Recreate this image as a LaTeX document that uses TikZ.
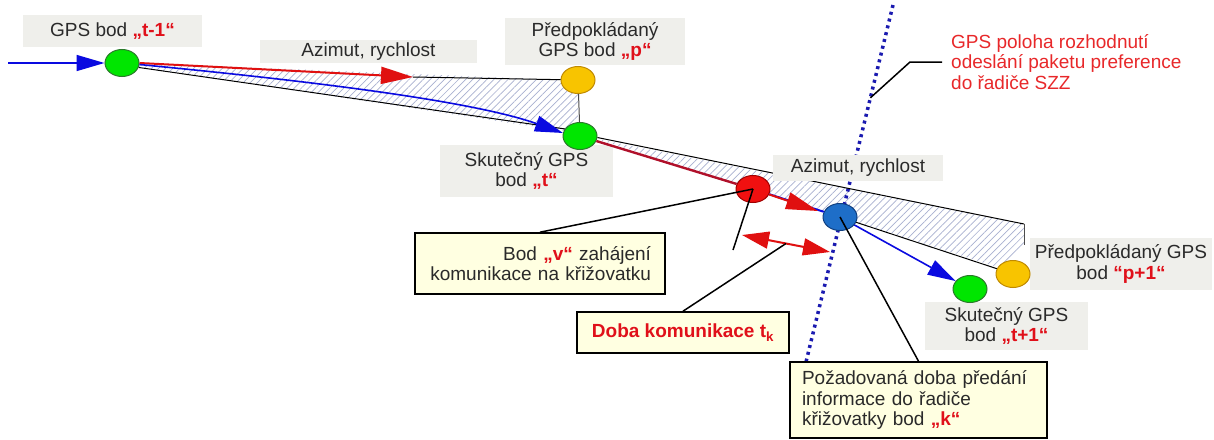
\documentclass[tikz,border=0pt]{standalone}
\usepackage{fontspec}
\setmainfont{Liberation Sans}
\usetikzlibrary{arrows.meta,shapes.geometric,patterns.meta,calc}
\definecolor{lgrey}{HTML}{EFEFEB}
\definecolor{cream}{HTML}{FFFFE1}
\definecolor{qred}{HTML}{E0101A}
\definecolor{ntred}{HTML}{E8282A}
\definecolor{txt}{HTML}{2A2A2A}
\definecolor{cgreen}{HTML}{00E600}
\definecolor{cgreenb}{HTML}{2A7A2A}
\definecolor{cyel}{HTML}{F8C400}
\definecolor{cyelb}{HTML}{C08A00}
\definecolor{cred}{HTML}{F01010}
\definecolor{credb}{HTML}{A00000}
\definecolor{cbluec}{HTML}{1E6EC8}
\definecolor{cbluecb}{HTML}{0F3F80}
\definecolor{lblue}{HTML}{0A0AE0}
\definecolor{lred}{HTML}{E01010}
\definecolor{dred}{HTML}{B0102A}
\definecolor{hatch}{HTML}{A8B0D0}
\definecolor{dotc}{HTML}{1A1AB0}
\newcommand\qhl[1]{\textcolor{qred}{\bfseries #1}}
\pgfdeclarelayer{back}
\pgfdeclarelayer{labels}
\pgfsetlayers{back,labels,main}
\begin{document}
\begin{tikzpicture}[x=1pt,y=-1pt,
  every node/.style={font=\fontsize{19}{20.5}\selectfont, text=txt},
  lbl/.style={fill=lgrey, inner sep=0pt, align=center},
  notebox/.style={fill=cream, draw=black, line width=1.6pt, inner sep=0pt},
  dotnode/.style={ellipse, line width=1pt, minimum width=34pt, minimum height=27pt, inner sep=0pt},
  bluearr/.style={draw=lblue, line width=1.6pt, -{Triangle[length=28pt,width=16pt]}},
  redarr/.style={draw=lred, line width=2pt, -{Triangle[length=32pt,width=17pt]}},
  thinblack/.style={draw=black, line width=1pt},
  callout/.style={draw=black, line width=1.5pt},
  gline/.style={draw=black!70, line width=1pt},
  dotline/.style={draw=dotc, line width=3.5pt, dash pattern=on 3pt off 4pt},
  hatchfill/.style={pattern={Lines[angle=45,distance=5pt,line width=0.7pt]}, pattern color=hatch}
]
% circles
\node[dotnode, fill=cgreen, draw=cgreenb] (tm1) at (122,63) {};
\node[dotnode, fill=cyel, draw=cyelb] (p) at (578,80) {};
\node[dotnode, fill=cgreen, draw=cgreenb] (t) at (580,136) {};
\node[dotnode, fill=cred, draw=credb] (v) at (753,189) {};
\node[dotnode, fill=cbluec, draw=cbluecb] (k) at (840,217) {};
\node[dotnode, fill=cgreen, draw=cgreenb] (t2) at (970,289) {};
\node[dotnode, fill=cyel, draw=cyelb] (p2) at (1013,274) {};

\coordinate (d1) at (893,5);
\coordinate (d2) at (806,362);
\coordinate (u2) at (1024,224);
\coordinate (u3) at (1024,245);

\begin{pgfonlayer}{back}
  \fill[white] (0,0) rectangle (1214,439);
  \path[use as bounding box] (0,0) rectangle (1214,439);
  \fill[hatchfill] (138,63) -- (562,80) -- (578,93) -- (578,123) -- (564,131) -- (137,67) -- cycle;
  \fill[hatchfill] (597,139) -- (1024,224) -- (1024,245) -- (1000,268) -- (840,217) -- (753,189) -- cycle;
  \draw[dotline] (d1) -- (d2);
  \draw[thinblack] (t.-5) -- (u2);
\end{pgfonlayer}

\begin{pgfonlayer}{labels}
  \node[lbl, minimum width=179pt, minimum height=32pt] (Ltm1) at (112.5,31) {GPS bod \qhl{„t-1“}};
  \node[lbl, minimum width=217pt, minimum height=23pt] (Laz1) at (368.5,51.5) {Azimut, rychlost};
  \node[lbl, minimum width=180pt, minimum height=47pt] (Lp) at (595,41.5) {Předpokládaný\\GPS bod \qhl{„p“}};
  \node[lbl, minimum width=173pt, minimum height=52pt] (Lt) at (526.5,171) {Skutečný GPS\\bod \qhl{„t“}};
  \node[lbl, minimum width=170pt, minimum height=26pt] (Laz2) at (858,168) {Azimut, rychlost};
  \node[lbl, minimum width=182pt, minimum height=52pt] (Lp2) at (1121,264) {Předpokládaný GPS\\bod \qhl{“p+1“}};
  \node[lbl, minimum width=163pt, minimum height=48pt] (Lt2) at (1006.5,326) {Skutečný GPS\\bod \qhl{„t+1“}};
\end{pgfonlayer}

% trajectory lines
\coordinate (in) at (8,63);
\coordinate (a1) at (413,77);
\coordinate (vtip) at (818,211);
\draw[bluearr] (in) -- (tm1);
\draw[thinblack] (a1) -- (p);
\draw[redarr] (tm1.east) -- (a1);
\draw[gline] (p) -- (t);
\draw[thinblack] (tm1.-15) -- (t.155);
\draw[bluearr] (tm1.-5) .. controls (300,80) and (470,100) .. (t.170);
\draw[gline] (u2) -- (u3);
\draw[thinblack] (k) -- (p2);
\draw[draw=lblue, line width=2pt] (v) -- (k);
\draw[draw=dred, line width=2.4pt] (t) -- (v);
\draw[redarr] (v) -- (vtip);
\draw[bluearr] (k) -- (t2);

% notes
\node[notebox, minimum width=250pt, minimum height=61pt, text width=222pt, align=right] (vbox) at (540,263.5) {Bod \qhl{„v“} zahájení\\komunikace na křižovatku};
\node[notebox, minimum width=212pt, minimum height=41pt] (dbox) at (683,332.5) {\qhl{Doba komunikace t\textsubscript{k}}};
\node[notebox, minimum width=257pt, minimum height=76pt, text width=233pt, align=left] (kbox) at (918.5,400) {Požadovaná doba předání\\informace do řadiče\\křižovatky bod \qhl{„k“}};
\node[anchor=west, align=left, text=ntred, inner sep=0pt] (gpsnote) at (951,62) {GPS poloha rozhodnutí\\odeslání paketu preference\\do řadiče SZZ};

% callouts
\coordinate (tk) at (733,250);
\coordinate (da1) at (742,235);
\coordinate (da2) at (830,252);
\draw[callout] (vbox.north) -- (v.center);
\draw[callout] (v.center) -- (tk);
\draw[draw=lred, line width=2pt, {Triangle[length=27pt,width=17pt]}-{Triangle[length=27pt,width=17pt]}] (da1) -- (da2);
\draw[callout] (dbox.north) -- ($(da1)!0.5!(da2)$);
\draw[callout] (kbox.north) -- (k.center);
\coordinate (dp) at ($(d1)!0.26!(d2)$);
\coordinate (ak) at (910,62);
\draw[callout] (dp) -- (ak) -- ($(gpsnote.west)+(-9,0)$);
\end{tikzpicture}
\end{document}
